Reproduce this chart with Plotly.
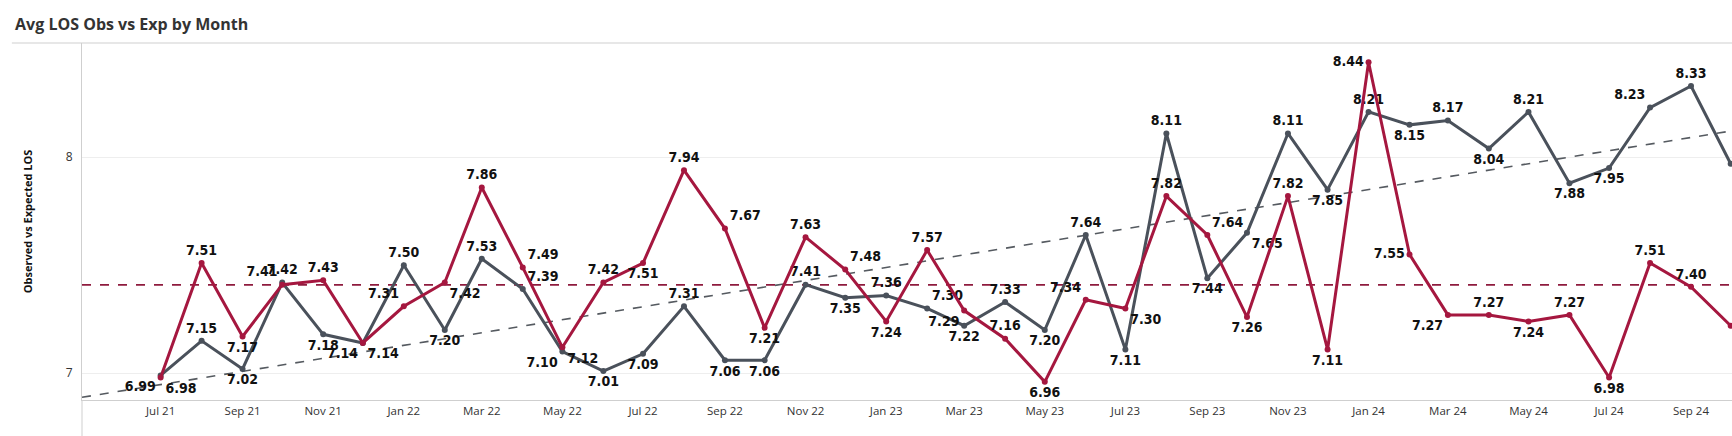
import numpy as np
import pandas as pd
import plotly.graph_objects as go

# ---- data ----
months = pd.date_range("2021-07-01", "2024-10-01", freq="MS")
expected = [6.99, 7.15, 7.02, 7.42, 7.18, 7.14, 7.50, 7.20, 7.53, 7.39,
            7.10, 7.01, 7.09, 7.31, 7.06, 7.06, 7.41, 7.35, 7.36, 7.30,
            7.22, 7.33, 7.20, 7.64, 7.11, 8.11, 7.44, 7.65, 8.11, 7.85,
            8.21, 8.15, 8.17, 8.04, 8.21, 7.88, 7.95, 8.23, 8.33, 7.97]
observed = [6.98, 7.51, 7.17, 7.41, 7.43, 7.14, 7.31, 7.42, 7.86, 7.49,
            7.12, 7.42, 7.51, 7.94, 7.67, 7.21, 7.63, 7.48, 7.24, 7.57,
            7.29, 7.16, 6.96, 7.34, 7.30, 7.82, 7.64, 7.26, 7.82, 7.11,
            8.44, 7.55, 7.27, 7.27, 7.24, 7.27, 6.98, 7.51, 7.40, 7.22]

exp_pos = ["bottom left", "top center", "bottom center", "top center", "bottom center",
           "bottom left", "top center", "bottom center", "top center", "top right",
           "bottom left", "bottom center", "bottom center", "top center", "bottom center",
           "bottom center", "top center", "bottom center", "top center", "top right",
           "bottom center", "top center", "bottom center", "top center", "bottom center",
           "top center", "bottom center", "bottom right", "top center", "bottom center",
           "top center", "bottom center", "top center", "bottom center", "top center",
           "bottom center", "bottom center", "top left", "top center", "middle right"]
obs_pos = ["bottom right", "top center", "bottom center", "top left", "top center",
           "bottom right", "top left", "bottom right", "top center", "top right",
           "bottom right", "top center", "bottom center", "top center", "top right",
           "bottom center", "top center", "top right", "bottom center", "top center",
           "bottom left", "top center", "bottom center", "top left", "bottom right",
           "top center", "top right", "bottom center", "top center", "bottom center",
           "middle left", "middle left", "bottom left", "top center", "bottom center",
           "top center", "bottom center", "top center", "top center", "middle right"]

RED = "#A5173F"
RED_AVG = "#8E1B3E"
GREY = "#4A515B"
GREY_TREND = "#555A60"

x_range = [pd.Timestamp("2021-05-02 12:00"), pd.Timestamp("2024-10-02")]
y_range = [6.876, 8.529]

# trend line for expected (least squares on time)
t = (months - months[0]).days.values.astype(float)
slope, intercept = np.polyfit(t, np.array(expected), 1)
t_ends = np.array([(d - months[0]).days + (d - months[0]).seconds / 86400 for d in x_range])
trend_y = slope * t_ends + intercept
obs_avg = float(np.mean(observed))

label_font = dict(family="Liberation Sans Narrow, DejaVu Sans Condensed, Roboto Condensed, sans-serif",
                  size=14, color="#111111", weight="bold")

fig = go.Figure()

fig.add_trace(go.Scatter(x=x_range, y=[obs_avg, obs_avg], mode="lines",
                         line=dict(color=RED_AVG, width=1.6, dash="dash"),
                         hoverinfo="skip", showlegend=False))
fig.add_trace(go.Scatter(x=x_range, y=trend_y, mode="lines",
                         line=dict(color=GREY_TREND, width=1.6, dash="dash"),
                         hoverinfo="skip", showlegend=False))

fig.add_trace(go.Scatter(x=months, y=expected, mode="lines+markers+text",
                         line=dict(color=GREY, width=3),
                         marker=dict(color=GREY, size=6),
                         text=[f"{v:.2f}" for v in expected],
                         textposition=exp_pos, textfont=label_font,
                         cliponaxis=False, showlegend=False, name="Expected"))
fig.add_trace(go.Scatter(x=months, y=observed, mode="lines+markers+text",
                         line=dict(color=RED, width=3),
                         marker=dict(color=RED, size=6),
                         text=[f"{v:.2f}" for v in observed],
                         textposition=obs_pos, textfont=label_font,
                         cliponaxis=False, showlegend=False, name="Observed"))

fig.update_layout(
    width=1732, height=436,
    margin=dict(l=82, r=0, t=43, b=36),
    paper_bgcolor="white", plot_bgcolor="white",
    title=dict(text="<b>Avg LOS Obs vs Exp by Month</b>", x=0.0087, xanchor="left",
               y=0.945, yanchor="middle",
               font=dict(family="Open Sans, Noto Sans, sans-serif", size=16, color="#333333")),
    xaxis=dict(type="date", range=x_range, tick0="2021-07-01", dtick="M2",
               tickformat="%b %y", showgrid=False, zeroline=False,
               showline=True, linecolor="#cfcfcf", linewidth=1,
               ticks="", ticklen=0,
               tickfont=dict(family="Open Sans, Noto Sans, sans-serif", size=11.5, color="#333333")),
    yaxis=dict(range=y_range, tickvals=[7, 8], ticktext=["7", "8"],
               showgrid=True, gridcolor="#eeeeee", gridwidth=1, zeroline=False,
               showline=True, linecolor="#cfcfcf", linewidth=1,
               ticks="", ticklabelstandoff=6,
               tickfont=dict(family="Open Sans, Noto Sans, sans-serif", size=12, color="#333333"),
               title=dict(text="<b>Observed vs Expected LOS</b>", standoff=30,
                          font=dict(family="Open Sans, Noto Sans, sans-serif", size=11, color="#111111"))),
    font=dict(family="Open Sans, Noto Sans, sans-serif"),
)

# title separator line and axis-line extension (frame elements, paper coords)
fig.add_shape(type="line", xref="paper", yref="paper", x0=-0.0425, x1=1.0, y0=1.0, y1=1.0,
              line=dict(color="#cfcfcf", width=1), layer="above")
fig.add_shape(type="line", xref="paper", yref="paper", x0=0, x1=0, y0=-0.101, y1=0,
              line=dict(color="#cfcfcf", width=1), layer="above")

fig.write_html("out.html", config={"displayModeBar": False},
               post_script="document.body.style.margin='0';document.body.style.overflow='hidden';")
